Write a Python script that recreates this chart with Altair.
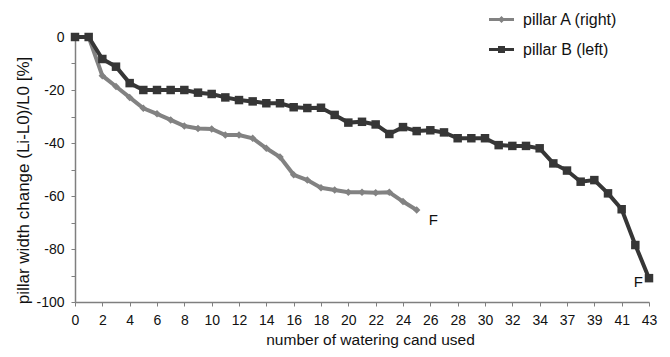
import altair as alt
import pandas as pd

# Category axis (one watering count is missing after 34)
categories = [str(i) for i in range(0, 35)] + ["36", "37", "38", "39", "40", "41", "42", "43"]
label_categories = [str(i) for i in range(0, 35, 2)] + ["37", "39", "41", "43"]

series_names = ["pillar A (right)", "pillar B (left)"]
series_colors = ["#828282", "#363636"]
series_shapes = ["diamond", "square"]
series_sizes = [56, 72]

pillar_a = [0, 0, -14.6, -18.7, -22.8, -26.9, -29, -31.3, -33.6, -34.5, -34.7, -37, -37,
            -38.2, -42, -45.3, -52, -54, -56.9, -57.7, -58.6, -58.6, -58.8, -58.6, -62.1, -65.3]
pillar_b = [0, 0, -8.3, -11.2, -17.4, -20, -20, -20, -20, -21, -21.5, -22.8, -23.8, -24.3,
            -25, -25, -26.5, -26.8, -26.7, -29.4, -32.3, -32, -33, -36.6, -34, -35.5, -35.2,
            -36, -38.2, -38.2, -38.2, -40.8, -41.1, -41.1, -42, -47.7, -50.4, -54.6, -54,
            -59, -65, -78.5, -91]

# failure annotations
f_cat = ["26", "42"]
f_val = [-69, -92.5]
f_text = ["F", "F"]

y_ticks = [0, -10, -20, -30, -40, -50, -60, -70, -80, -90, -100]

rows = []
for name, vals in zip(series_names, [pillar_a, pillar_b]):
    for i, v in enumerate(vals):
        rows.append({"cat": categories[i], "val": v, "series": name, "order": i})
df = pd.DataFrame(rows)
ann = pd.DataFrame({"cat": f_cat, "val": f_val, "text": f_text})
legend_df = pd.DataFrame({"series": series_names, "cat": ["0", "0"], "val": [0, 0]})

FONT = "Liberation Sans"

x_enc = alt.X("cat:O",
              scale=alt.Scale(type="point", domain=categories, padding=0),
              axis=alt.Axis(values=label_categories, labelAngle=0, title="number of watering cand used",
                            domainColor="#7f7f7f", tickColor="#7f7f7f", domainWidth=1.5,
                            tickSize=4, labelPadding=7, labelFontSize=14, labelColor="#111",
                            titleFontSize=15.5, titleFontWeight="normal", titleColor="#111",
                            titlePadding=5, titleX=295, grid=False, labelFont=FONT, titleFont=FONT))
y_enc = alt.Y("val:Q",
              scale=alt.Scale(domain=[-100, 0], nice=False),
              axis=alt.Axis(values=y_ticks,
                            labelExpr="datum.value % 20 == 0 ? toString(datum.value) : ''",
                            title="pillar width change (Li-L0)/L0 [%]",
                            domainColor="#7f7f7f", tickColor="#7f7f7f", domainWidth=1.5,
                            tickSize=4, labelPadding=7, labelFontSize=14, labelColor="#111",
                            titleFontSize=17, titleFontWeight="normal", titleColor="#111",
                            titlePadding=3, titleY=143, grid=False, labelFont=FONT, titleFont=FONT))

layers = []
for name, col, shp, sz in zip(series_names, series_colors, series_shapes, series_sizes):
    base = alt.Chart(df).transform_filter(alt.datum.series == name)
    layers.append(base.mark_line(strokeWidth=4, color=col).encode(x=x_enc, y=y_enc, order="order:Q"))
    layers.append(base.mark_point(shape=shp, filled=True, size=sz, opacity=1, color=col).encode(x=x_enc, y=y_enc))

path_a = "M-1,-0.12L1,-0.12L1,0.12L-1,0.12Z M0,-0.28L0.28,0L0,0.28L-0.28,0Z"
path_b = "M-1,-0.12L1,-0.12L1,0.12L-1,0.12Z M-0.28,-0.28L0.28,-0.28L0.28,0.28L-0.28,0.28Z"

leg = alt.Legend(title=None, orient="none", legendX=414, legendY=-30, symbolSize=625,
                 symbolStrokeWidth=0, symbolOpacity=1, labelFontSize=16, labelFont=FONT,
                 labelColor="#111", labelOffset=9, rowPadding=9)
legend_layer = alt.Chart(legend_df).mark_point(filled=True, opacity=0).encode(
    x=x_enc, y=y_enc,
    color=alt.Color("series:N", scale=alt.Scale(domain=series_names, range=series_colors), legend=leg),
    shape=alt.Shape("series:N", scale=alt.Scale(domain=series_names, range=[path_a, path_b]), legend=leg))

text = alt.Chart(ann).mark_text(fontSize=15, font=FONT, color="#111", dx=3).encode(
    x=x_enc, y=y_enc, text="text:N")

chart = alt.layer(*layers, legend_layer, text).properties(
    width=574, height=265,
    autosize=alt.AutoSizeParams(type="none"),
    padding={"left": 67, "top": 29, "right": 13, "bottom": 47},
).configure_view(stroke=None)

chart.save("out.html", embed_options={"renderer": "svg", "actions": False})
